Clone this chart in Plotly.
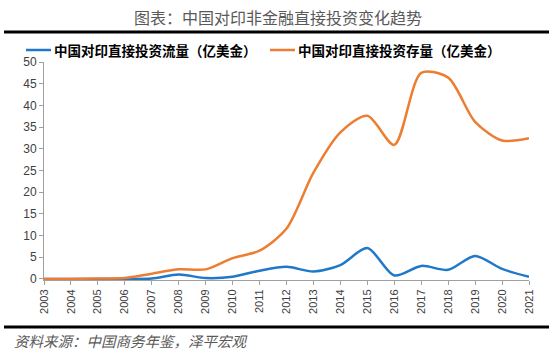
import plotly.graph_objects as go

years = list(range(2003, 2022))
flow = [0, 0, 0, 0, 0.1, 1.0, 0.2, 0.5, 1.9, 2.8, 1.7, 3.2, 7.1, 0.8, 3.0, 2.1, 5.3, 2.3, 0.5]
stock = [0, 0, 0.1, 0.2, 1.2, 2.2, 2.2, 4.8, 6.5, 11.6, 24.5, 33.8, 37.6, 30.9, 47.5, 46.4, 36.2, 31.9, 32.4]
name_flow = "中国对印直接投资流量（亿美金）"
name_stock = "中国对印直接投资存量（亿美金）"
title = "图表：中国对印非金融直接投资变化趋势"
source = "资料来源：中国商务年鉴，泽平宏观"
yticks = [0, 5, 10, 15, 20, 25, 30, 35, 40, 45, 50]
blue = "#1F78C8"
orange = "#ED7D31"

cjk = "Noto Sans CJK SC"
L, R, T, B = 44, 529, 62, 280  # plot area in window pixels
W, H = R - L, B - T


def px(x):
    return (x - L) / W


def py(y):
    return (B - y) / H


fig = go.Figure()
fig.add_trace(go.Scatter(x=years, y=flow, name=name_flow, mode="lines",
                         line=dict(color=blue, width=2.5, shape="spline", smoothing=0.8)))
fig.add_trace(go.Scatter(x=years, y=stock, name=name_stock, mode="lines",
                         line=dict(color=orange, width=2.5, shape="spline", smoothing=0.8)))


def rule_shape(y):
    return dict(type="line", xref="paper", yref="paper", x0=px(4), x1=px(549),
                y0=py(y), y1=py(y), line=dict(color="black", width=3))


legend_y = 50
fig.update_layout(
    width=552, height=357,
    margin=dict(l=L, r=552 - R, t=T, b=357 - B, autoexpand=False),
    paper_bgcolor="white", plot_bgcolor="white",
    font=dict(family=cjk, color="#404040"),
    showlegend=False,
    xaxis=dict(range=[2003, 2021], tickvals=years, ticktext=[str(y) for y in years],
               tickangle=-90, ticks="outside", ticklen=4, tickcolor="#A0A0A0",
               showline=True, linecolor="#A0A0A0", linewidth=1, showgrid=False, zeroline=False,
               tickfont=dict(family="Liberation Sans, Arial", size=11, color="#404040")),
    yaxis=dict(range=[-0.25, 50], tickvals=yticks, ticks="outside", ticklen=4, tickcolor="#A0A0A0",
               showline=True, linecolor="#A0A0A0", linewidth=1, showgrid=False, zeroline=False,
               tickfont=dict(family="Liberation Sans, Arial", size=12, color="#404040")),
    shapes=[
        rule_shape(32),
        rule_shape(327),
        dict(type="line", xref="paper", yref="paper", x0=px(26), x1=px(51),
             y0=py(legend_y), y1=py(legend_y), line=dict(color=blue, width=2.5)),
        dict(type="line", xref="paper", yref="paper", x0=px(270), x1=px(295),
             y0=py(legend_y), y1=py(legend_y), line=dict(color=orange, width=2.5)),
    ],
    annotations=[
        dict(text=title, xref="paper", yref="paper", x=px(278), y=py(17),
             xanchor="center", yanchor="middle", showarrow=False,
             font=dict(family=cjk, size=16, color="#595959")),
        dict(text=name_flow, xref="paper", yref="paper", x=px(52), y=py(legend_y),
             xanchor="left", yanchor="middle", showarrow=False,
             font=dict(family=cjk, size=13.5, color="#000000", weight="bold")),
        dict(text=name_stock, xref="paper", yref="paper", x=px(296), y=py(legend_y),
             xanchor="left", yanchor="middle", showarrow=False,
             font=dict(family=cjk, size=13.5, color="#000000", weight="bold")),
        dict(text="<i>" + source + "</i>", xref="paper", yref="paper", x=px(12),
             y=py(340), xanchor="left", yanchor="middle", showarrow=False,
             font=dict(family=cjk, size=14.5, color="#595959")),
    ],
)

fig.write_html("out.html", config={"displayModeBar": False},
               post_script="document.body.style.margin='0';")
